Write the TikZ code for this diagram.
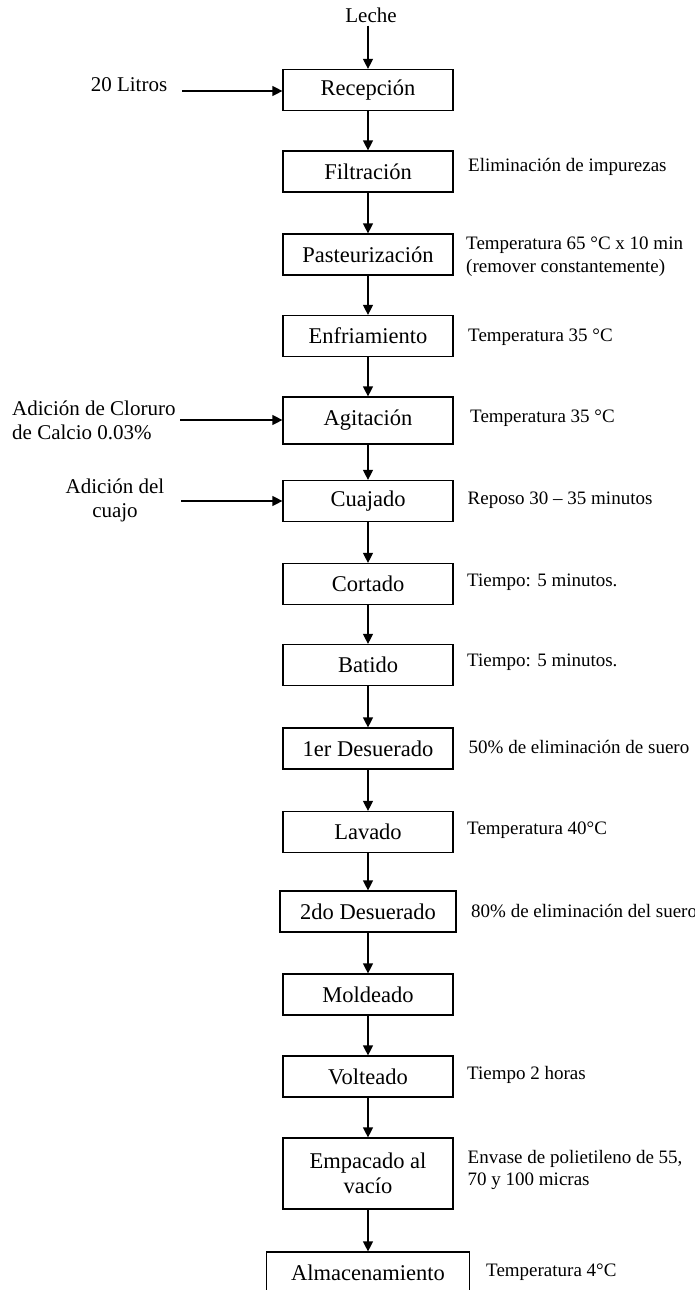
\documentclass[tikz,border=0pt]{standalone}
\usepackage{fontspec}
\setmainfont{Liberation Serif}
\usetikzlibrary{arrows.meta,positioning}
\tikzstyle{proceso} = [rectangle, line width=1.2pt, minimum width=170pt, minimum height=41pt, inner sep=0pt, text centered, draw=black, font=\fontsize{22.5}{25}\selectfont]
\tikzstyle{nota} = [anchor=west, align=left, inner sep=0pt, font=\fontsize{19}{22.5}\selectfont]
\tikzstyle{entrada} = [inner sep=0pt, font=\fontsize{21}{24}\selectfont]
\tikzstyle{arrow} = [line width=1.2pt, -{Triangle[length=10pt,width=10pt]}]

\begin{document}
\begin{tikzpicture}[x=1pt, y=-1pt]
\useasboundingbox (0,0) rectangle (695,1290);
% nodes
\node (leche) [entrada] at (371,15) {Leche};
\node (recepcion) [proceso] at (368,90) {Recepción};
\node (filtracion) [proceso] at (368,171.5) {Filtración};
\node (pasteurizacion) [proceso] at (368,254.5) {Pasteurización};
\node (enfriamiento) [proceso] at (368,336) {Enfriamiento};
\node (agitacion) [proceso, minimum height=47pt] at (368,420.5) {Agitación};
\node (cuajado) [proceso] at (368,501) {Cuajado};
\node (cortado) [proceso] at (368,584) {Cortado};
\node (batido) [proceso] at (368,665) {Batido};
\node (desuerado1) [proceso] at (368,748.5) {1er Desuerado};
\node (lavado) [proceso] at (368,832) {Lavado};
\node (desuerado2) [proceso, minimum width=176pt] at (368,911.5) {2do Desuerado};
\node (moldeado) [proceso] at (368,994.5) {Moldeado};
\node (volteado) [proceso] at (368,1076.5) {Volteado};
\node (empacado) [proceso, minimum height=71pt, align=center] at (368,1173.5) {Empacado al\\vacío};
\node (almacenamiento) [proceso, minimum width=203pt] at (368,1272.5) {Almacenamiento};

% entradas
\node (litros) [entrada] at (129,85) {20 Litros};
\node (cloruro) [entrada, align=left, anchor=west] at (12,420) {Adición de Cloruro\\de Calcio 0.03\%};
\node (cuajo) [entrada, align=center] at (115,500) {Adición del\\cuajo};
\coordinate (litros_in) at (182,91);
\coordinate (cloruro_in) at (180,420);
\coordinate (cuajo_in) at (181,501);

% notas
\node (n_filtracion) [nota] at (468,166.5) {Eliminación de impurezas};
\node (n_pasteurizacion) [nota] at (466,256.5) {Temperatura 65 °C x 10 min\\(remover constantemente)};
\node (n_enfriamiento) [nota] at (468,337) {Temperatura 35 °C};
\node (n_agitacion) [nota] at (470,418) {Temperatura 35 °C};
\node (n_cuajado) [nota] at (467.5,500.5) {Reposo 30 – 35 minutos};
\node (n_cortado) [nota] at (467,582) {Tiempo: 5 minutos.};
\node (n_batido) [nota] at (467,662) {Tiempo: 5 minutos.};
\node (n_desuerado1) [nota] at (468.5,747) {50\% de eliminación de suero};
\node (n_lavado) [nota] at (467,830) {Temperatura 40°C};
\node (n_desuerado2) [nota] at (471,911.5) {80\% de eliminación del suero};
\node (n_volteado) [nota] at (467,1075) {Tiempo 2 horas};
\node (n_empacado) [nota] at (467.5,1170) {Envase de polietileno de 55,\\70 y 100 micras};
\node (n_almacenamiento) [nota] at (486,1272) {Temperatura 4°C};

% edges
\draw [arrow, shorten <=3pt] (recepcion.north |- leche.south) -- (recepcion);
\draw [arrow] (recepcion) -- (filtracion);
\draw [arrow] (filtracion) -- (pasteurizacion);
\draw [arrow] (pasteurizacion) -- (enfriamiento);
\draw [arrow] (enfriamiento) -- (agitacion);
\draw [arrow] (agitacion) -- (cuajado);
\draw [arrow] (cuajado) -- (cortado);
\draw [arrow] (cortado) -- (batido);
\draw [arrow] (batido) -- (desuerado1);
\draw [arrow] (desuerado1) -- (lavado);
\draw [arrow] (lavado) -- (desuerado2);
\draw [arrow] (desuerado2) -- (moldeado);
\draw [arrow] (moldeado) -- (volteado);
\draw [arrow] (volteado) -- (empacado);
\draw [arrow] (empacado) -- (almacenamiento);

\draw [arrow] (litros_in) -- (litros_in -| recepcion.west);
\draw [arrow] (cloruro_in) -- (cloruro_in -| agitacion.west);
\draw [arrow] (cuajo_in) -- (cuajo_in -| cuajado.west);

\end{tikzpicture}
\end{document}
